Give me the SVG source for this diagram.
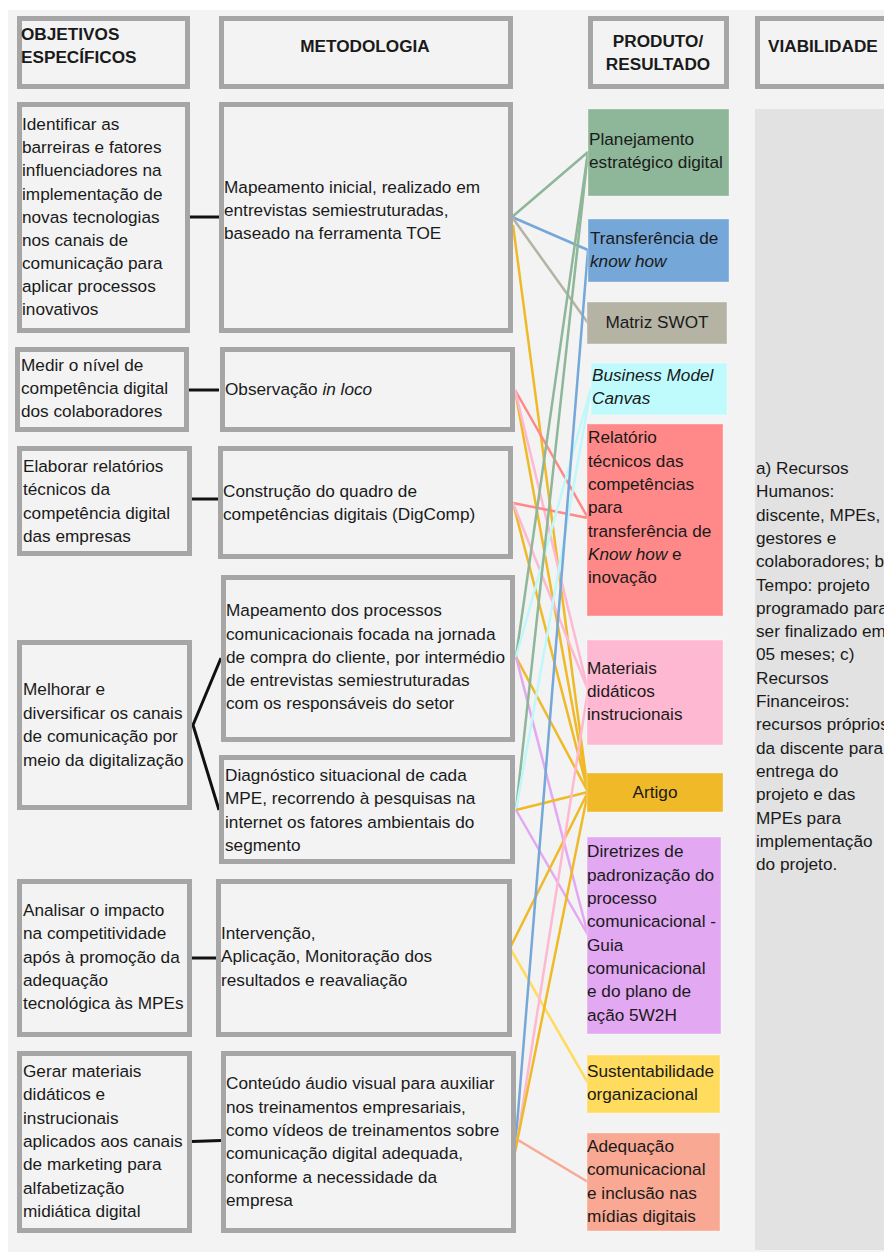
<svg xmlns="http://www.w3.org/2000/svg" width="884" height="1252" viewBox="0 0 884 1252">
<style>
text{font-family:"Liberation Sans",Arial,sans-serif;font-size:17.2px;fill:#1a1a1a}
.h{font-weight:bold}
.box{fill:#f3f3f3;stroke:#a6a6a6;stroke-width:5}
.p{stroke:#ffffff;stroke-opacity:0.35;stroke-width:1}
.lk{stroke:#111;stroke-width:3;fill:none}
.c{fill:none;stroke-width:2.5}
.i{font-style:italic}
</style>
<rect x="0" y="0" width="884" height="1252" fill="#ffffff"/>
<rect x="8" y="10" width="876" height="1242" fill="#f3f3f3"/>
<rect x="755" y="109" width="129" height="1141" fill="#e2e2e2"/>

<g id="headers">
<g id="h-obj"><rect class="box" x="19.5" y="18.5" width="168" height="68"/><text class="h" x="21" y="40">OBJETIVOS</text><text class="h" x="21" y="63">ESPECÍFICOS</text></g>
<g id="h-met"><rect class="box" x="221.5" y="18.5" width="289" height="68"/><text class="h" x="365" y="52" text-anchor="middle">METODOLOGIA</text></g>
<g id="h-prod"><rect class="box" x="590.5" y="18.5" width="136" height="68"/><text class="h" x="658" y="47" text-anchor="middle">PRODUTO/</text><text class="h" x="658" y="70" text-anchor="middle">RESULTADO</text></g>
<g id="h-viab"><rect class="box" x="757.5" y="18.5" width="150" height="68"/><text class="h" x="768" y="52">VIABILIDADE</text></g>
</g>

<g id="connectors">
<path class="lk" d="M190 217H219"/>
<path class="lk" d="M189 390H219"/>
<path class="lk" d="M192 499H218"/>
<path class="lk" d="M221 658L193 725L219 810"/>
<path class="lk" d="M192 958H216"/>
<path class="lk" d="M192 1141.5L221 1140.5"/>
<!-- M1 -->
<line class="c" stroke="#8eb698" x1="512" y1="217" x2="588" y2="152"/>
<line class="c" stroke="#75a7d8" x1="512" y1="217" x2="588" y2="250"/>
<line class="c" stroke="#b5b3a3" x1="512" y1="217" x2="588" y2="323"/>
<line class="c" stroke="#efb928" x1="513" y1="225" x2="588" y2="792"/>
<!-- M2 -->
<line class="c" stroke="#ff8888" x1="515" y1="390" x2="588" y2="518"/>
<line class="c" stroke="#efb928" x1="515" y1="390" x2="588" y2="792"/>
<line class="c" stroke="#ffb8d1" x1="515" y1="390" x2="588" y2="690"/>
<!-- M3 -->
<line class="c" stroke="#ff8888" x1="513" y1="503" x2="588" y2="518"/>
<line class="c" stroke="#efb928" x1="513" y1="503" x2="588" y2="792"/>
<line class="c" stroke="#ffb8d1" x1="513" y1="503" x2="588" y2="690"/>
<!-- M4 -->
<line class="c" stroke="#8eb698" x1="516" y1="657" x2="588" y2="152"/>
<line class="c" stroke="#bff8fb" x1="516" y1="657" x2="591" y2="388"/>
<line class="c" stroke="#efb928" x1="516" y1="657" x2="588" y2="792"/>
<line class="c" stroke="#e2a8f2" x1="516" y1="657" x2="588" y2="935"/>
<!-- M5 -->
<line class="c" stroke="#8eb698" x1="516" y1="810" x2="588" y2="152"/>
<line class="c" stroke="#bff8fb" x1="516" y1="810" x2="591" y2="388"/>
<line class="c" stroke="#efb928" x1="516" y1="810" x2="588" y2="792"/>
<line class="c" stroke="#e2a8f2" x1="516" y1="810" x2="588" y2="935"/>
<!-- M6 -->
<line class="c" stroke="#efb928" x1="510" y1="948" x2="588" y2="792"/>
<line class="c" stroke="#ffdb5e" x1="510" y1="948" x2="588" y2="1083"/>
<!-- M7 -->
<line class="c" stroke="#75a7d8" x1="515" y1="1150" x2="588" y2="250"/>
<line class="c" stroke="#ffb8d1" x1="516" y1="1148" x2="588" y2="690"/>
<line class="c" stroke="#efb928" x1="515" y1="1152" x2="588" y2="792"/>
<line class="c" stroke="#f8a893" x1="518" y1="1140" x2="588" y2="1182"/>
</g>

<g id="o1"><rect class="box" x="19.5" y="104.5" width="168" height="226"/>
<text x="22" y="130">Identificar as</text><text x="22" y="153">barreiras e fatores</text><text x="22" y="176">influenciadores na</text><text x="22" y="199.5">implementação de</text><text x="22" y="222.5">novas tecnologias</text><text x="22" y="246">nos canais de</text><text x="22" y="269">comunicação para</text><text x="22" y="292">aplicar processos</text><text x="22" y="315">inovativos</text></g>
<g id="m1"><rect class="box" x="221.5" y="104.5" width="289" height="226"/>
<text x="224" y="193">Mapeamento inicial, realizado em</text><text x="224" y="216">entrevistas semiestruturadas,</text><text x="224" y="239">baseado na ferramenta TOE</text></g>

<g id="o2"><rect class="box" x="17.5" y="349.5" width="169" height="80"/>
<text x="21" y="370.5">Medir o nível de</text><text x="21" y="394">competência digital</text><text x="21" y="417">dos colaboradores</text></g>
<g id="m2"><rect class="box" x="222.5" y="349.5" width="290" height="80"/>
<text x="225" y="395">Observação <tspan class="i">in loco</tspan></text></g>

<g id="o3"><rect class="box" x="19.5" y="448.5" width="170" height="105"/>
<text x="23" y="472">Elaborar relatórios</text><text x="23" y="495">técnicos da</text><text x="23" y="518.5">competência digital</text><text x="23" y="542">das empresas</text></g>
<g id="m3"><rect class="box" x="220.5" y="448.5" width="290" height="108"/>
<text x="223" y="497">Construção do quadro de</text><text x="223" y="520">competências digitais (DigComp)</text></g>

<g id="m4"><rect class="box" x="223.5" y="577.5" width="289" height="162"/>
<text x="226" y="616">Mapeamento dos processos</text><text x="226" y="639.5">comunicacionais focada na jornada</text><text x="226" y="663">de compra do cliente, por intermédio</text><text x="226" y="686">de entrevistas semiestruturadas</text><text x="226" y="709">com os responsáveis do setor</text></g>
<g id="o4"><rect class="box" x="19.5" y="642.5" width="170" height="165"/>
<text x="23" y="695">Melhorar e</text><text x="23" y="718.5">diversificar os canais</text><text x="23" y="742">de comunicação por</text><text x="23" y="765.5">meio da digitalização</text></g>
<g id="m5"><rect class="box" x="221.5" y="757.5" width="291" height="104"/>
<text x="225" y="781">Diagnóstico situacional de cada</text><text x="225" y="804">MPE, recorrendo à pesquisas na</text><text x="225" y="827.5">internet os fatores ambientais do</text><text x="225" y="851">segmento</text></g>

<g id="o5"><rect class="box" x="19.5" y="881.5" width="170" height="153"/>
<text x="23" y="916">Analisar o impacto</text><text x="23" y="939">na competitividade</text><text x="23" y="962.5">após à promoção da</text><text x="23" y="986">adequação</text><text x="23" y="1009">tecnológica às MPEs</text></g>
<g id="m6"><rect class="box" x="218.5" y="881.5" width="291" height="153"/>
<text x="221" y="939">Intervenção,</text><text x="221" y="962">Aplicação, Monitoração dos</text><text x="221" y="985.5">resultados e reavaliação</text></g>

<g id="o6"><rect class="box" x="19.5" y="1053.5" width="170" height="177"/>
<text x="23" y="1077">Gerar materiais</text><text x="23" y="1100">didáticos e</text><text x="23" y="1123.5">instrucionais</text><text x="23" y="1147">aplicados aos canais</text><text x="23" y="1170">de marketing para</text><text x="23" y="1193.5">alfabetização</text><text x="23" y="1217">midiática digital</text></g>
<g id="m7"><rect class="box" x="223.5" y="1053.5" width="290" height="177"/>
<text x="226" y="1089">Conteúdo áudio visual para auxiliar</text><text x="226" y="1112.5">nos treinamentos empresariais,</text><text x="226" y="1136">como vídeos de treinamentos sobre</text><text x="226" y="1159">comunicação digital adequada,</text><text x="226" y="1182.5">conforme a necessidade da</text><text x="226" y="1206">empresa</text></g>

<g id="p-planejamento"><rect class="p" x="588" y="109" width="141" height="87" fill="#8eb698"/>
<text x="589" y="145">Planejamento</text><text x="589" y="168">estratégico digital</text></g>
<g id="p-transferencia"><rect class="p" x="588" y="219" width="141" height="63" fill="#75a7d8"/>
<text x="590" y="244">Transferência de</text><text x="590" y="267" class="i">know how</text></g>
<g id="p-swot"><rect class="p" x="587" y="302" width="140" height="42" fill="#b5b3a3"/>
<text x="657" y="328" text-anchor="middle">Matriz SWOT</text></g>
<g id="p-bmc"><rect class="p" x="591" y="363" width="136" height="52" fill="#bffbfd"/>
<text x="592" y="381" class="i">Business Model</text><text x="592" y="404" class="i">Canvas</text></g>
<g id="p-relatorio"><rect class="p" x="587" y="424" width="136" height="192" fill="#ff8888"/>
<text x="588" y="443">Relatório</text><text x="588" y="466.5">técnicos das</text><text x="588" y="490">competências</text><text x="588" y="513">para</text><text x="588" y="536.5">transferência de</text><text x="588" y="560"><tspan class="i">Know how</tspan> e</text><text x="588" y="583">inovação</text></g>
<g id="p-materiais"><rect class="p" x="587" y="640" width="136" height="105" fill="#ffb8d1"/>
<text x="587" y="673.5">Materiais</text><text x="587" y="697">didáticos</text><text x="587" y="720">instrucionais</text></g>
<g id="p-artigo"><rect class="p" x="587" y="773" width="136" height="39" fill="#efb928"/>
<text x="655" y="797.5" text-anchor="middle">Artigo</text></g>
<g id="p-diretrizes"><rect class="p" x="587" y="837" width="134" height="197" fill="#e2a8f2"/>
<text x="587" y="857">Diretrizes de</text><text x="587" y="880.5">padronização do</text><text x="587" y="904">processo</text><text x="587" y="927">comunicacional -</text><text x="587" y="950.5">Guia</text><text x="587" y="974">comunicacional</text><text x="587" y="997">e do plano de</text><text x="587" y="1020.5">ação 5W2H</text></g>
<g id="p-sustentabilidade"><rect class="p" x="587" y="1055" width="133" height="58" fill="#ffdb5e"/>
<text x="587" y="1077">Sustentabilidade</text><text x="587" y="1100">organizacional</text></g>
<g id="p-adequacao"><rect class="p" x="587" y="1133" width="133" height="98" fill="#f8a893"/>
<text x="587" y="1152">Adequação</text><text x="587" y="1175">comunicacional</text><text x="587" y="1198.5">e inclusão nas</text><text x="587" y="1222">mídias digitais</text></g>

<g id="viabilidade">
<text x="756" y="474">a) Recursos</text><text x="756" y="497.3">Humanos:</text><text x="756" y="520.6">discente, MPEs,</text><text x="756" y="543.9">gestores e</text><text x="756" y="567.2">colaboradores; b)</text><text x="756" y="590.5">Tempo: projeto</text><text x="756" y="613.8">programado para</text><text x="756" y="637.1">ser finalizado em</text><text x="756" y="660.4">05 meses; c)</text><text x="756" y="683.7">Recursos</text><text x="756" y="707">Financeiros:</text><text x="756" y="730.3">recursos próprios</text><text x="756" y="753.6">da discente para</text><text x="756" y="776.9">entrega do</text><text x="756" y="800.2">projeto e das</text><text x="756" y="823.5">MPEs para</text><text x="756" y="846.8">implementação</text><text x="756" y="870.1">do projeto.</text>
</g>
</svg>
